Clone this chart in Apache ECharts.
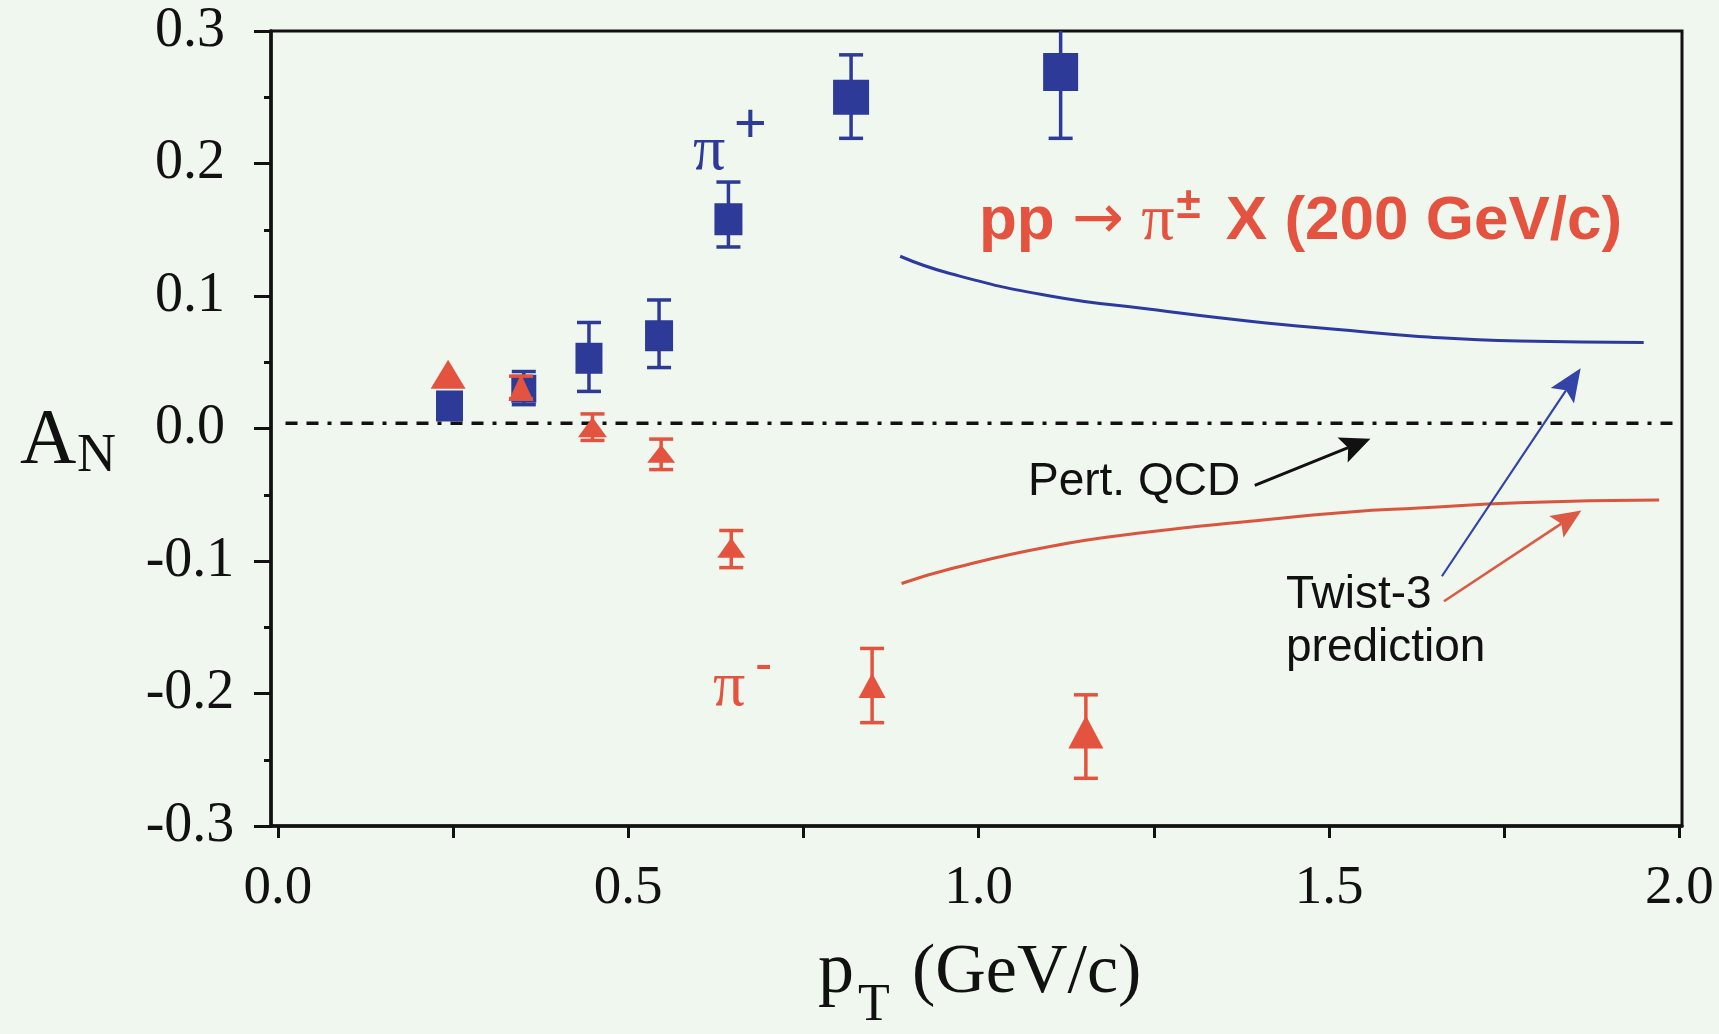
<!DOCTYPE html>
<html>
<head>
<meta charset="utf-8">
<script src="https://cdn.jsdelivr.net/npm/echarts@6/dist/echarts.min.js"></script>
<style>
html, body { margin: 0; padding: 0; background: #f0f7ee; }
#chart { width: 1719px; height: 1034px; }
</style>
</head>
<body>
<div id="chart"></div>
<script>
// ---------------- data ----------------
const piPlusX = [0.245, 0.351, 0.444, 0.544, 0.643, 0.818, 1.117];
const piPlusY = [0.017, 0.030, 0.053, 0.070, 0.158, 0.250, 0.269];
const piPlusErrUp = [0.008, 0.013, 0.027, 0.027, 0.028, 0.032, 0.050];
const piPlusErrDown = [0.008, 0.012, 0.025, 0.024, 0.021, 0.031, 0.050];

const piMinusX = [0.243, 0.347, 0.449, 0.547, 0.647, 0.848, 1.153];
const piMinusY = [0.041, 0.031, 0.001, -0.019, -0.090, -0.194, -0.229];
const piMinusErrUp = [0, 0.0085, 0.010, 0.011, 0.013, 0.028, 0.028];
const piMinusErrDown = [0, 0.0085, 0.010, 0.012, 0.015, 0.028, 0.035];

const twistPlusX = [0.888, 0.959, 1.102, 1.245, 1.387, 1.530, 1.628, 1.771, 1.949];
const twistPlusY = [0.130, 0.117, 0.100, 0.090, 0.081, 0.074, 0.0695, 0.066, 0.065];
const twistMinusX = [0.890, 0.959, 1.102, 1.245, 1.387, 1.530, 1.628, 1.771, 1.971];
const twistMinusY = [-0.117, -0.106, -0.089, -0.078, -0.070, -0.063, -0.060, -0.056, -0.054];

const pertQcdX = [0.011, 2.0036];
const pertQcdY = [0.004, 0.004];

// annotation arrows (Pert. QCD, Twist-3 pi+, Twist-3 pi-)
const arrowFromX = [1.394, 1.661, 1.664];
const arrowFromY = [-0.043, -0.1115, -0.1304];
const arrowToX = [1.559, 1.859, 1.860];
const arrowToY = [-0.0077, 0.0454, -0.0618];

const xTickValues = [0, 0.25, 0.5, 0.75, 1, 1.25, 1.5, 1.75, 2];
const xLabelValues = [0, 0.5, 1, 1.5, 2];
const xMin = -0.0097, xMax = 2.0036;
const yMin = -0.3, yMax = 0.3, yStep = 0.1;

// ---------------- styles ----------------
const BLUE = '#2d3a98';
const RED = '#e4533f';
const BLACK = '#111111';
const SERIF = '"Liberation Serif", "Times New Roman", serif';
const SANS = '"Liberation Sans", Arial, sans-serif';
const piPlusMarker = [[27,31],[25,28],[27,31],[28,31],[28,32],[36,35],[35,38]];
const piMinusMarker = [[35,29],[25,27],[29,20],[28,18],[28,20],[27,25],[35,33]];
const arrowStyles = [
  {color: BLACK, width: 3, len: 30, head: 27},
  {color: '#3343a8', width: 2.2, len: 33, head: 28},
  {color: '#dc5a44', width: 2.6, len: 30, head: 26}
];
const CAP = 24;

function errRender(color) {
  return function (params, api) {
    const x = api.value(0), lo = api.value(1), hi = api.value(2);
    if (hi === lo) return null;
    const cs = params.coordSys;
    const pHi = api.coord([x, hi]);
    const pLo = api.coord([x, lo]);
    const top = cs.y, bot = cs.y + cs.height;
    const y1 = Math.max(pHi[1], top), y2 = Math.min(pLo[1], bot);
    const st = {stroke: color, lineWidth: 3.5};
    const ch = [{type: 'line', shape: {x1: pHi[0], y1: y1, x2: pHi[0], y2: y2}, style: st}];
    if (pHi[1] >= top) ch.push({type: 'line', shape: {x1: pHi[0] - CAP/2, y1: pHi[1], x2: pHi[0] + CAP/2, y2: pHi[1]}, style: st});
    if (pLo[1] <= bot) ch.push({type: 'line', shape: {x1: pLo[0] - CAP/2, y1: pLo[1], x2: pLo[0] + CAP/2, y2: pLo[1]}, style: st});
    return {type: 'group', children: ch};
  };
}

function arrowRender(params, api) {
  const s = arrowStyles[params.dataIndex];
  const p1 = api.coord([api.value(0), api.value(1)]);
  const p2 = api.coord([api.value(2), api.value(3)]);
  const dx = p2[0] - p1[0], dy = p2[1] - p1[1];
  const d = Math.sqrt(dx*dx + dy*dy);
  const ux = dx/d, uy = dy/d, nx = -uy, ny = ux;
  const bx = p2[0] - s.len*ux, by = p2[1] - s.len*uy;
  const mx = p2[0] - 0.8*s.len*ux, my = p2[1] - 0.8*s.len*uy;
  return {
    type: 'group',
    children: [
      {type: 'line', shape: {x1: p1[0], y1: p1[1], x2: mx, y2: my}, style: {stroke: s.color, lineWidth: s.width}},
      {type: 'polygon', shape: {points: [[p2[0], p2[1]], [bx + nx*s.head/2, by + ny*s.head/2], [mx, my], [bx - nx*s.head/2, by - ny*s.head/2]]}, style: {fill: s.color}}
    ]
  };
}

function baseTop(baseline, size) { return baseline - 0.81 * size; }
function txt(x, baseline, size, family, text, color, weight) {
  return {
    type: 'text', x: x, y: baseTop(baseline, size), silent: true, z: 100,
    style: {text: text, font: (weight ? weight + ' ' : '') + size + 'px ' + family, fill: color || BLACK}
  };
}

const chart = echarts.init(document.getElementById('chart'), null, {renderer: 'canvas'});
const option = {
  backgroundColor: '#f0f7ee',
  animation: false,
  grid: {left: 271, top: 31, width: 1411, height: 795, show: true, borderColor: BLACK, borderWidth: 3,
         backgroundColor: 'transparent', containLabel: false, outerBoundsMode: 'none'},
  xAxis: {
    type: 'value', min: xMin, max: xMax,
    axisLine: {show: true, onZero: false, lineStyle: {color: BLACK, width: 3.5}},
    axisTick: {show: true, customValues: xTickValues, length: 12, lineStyle: {color: BLACK, width: 3}},
    axisLabel: {customValues: xLabelValues, formatter: v => v.toFixed(1), fontFamily: SERIF, fontSize: 55, color: BLACK, margin: 35},
    splitLine: {show: false}
  },
  yAxis: {
    type: 'value', min: yMin, max: yMax, interval: yStep,
    axisLine: {show: true, onZero: false, lineStyle: {color: BLACK, width: 3.5}},
    axisTick: {show: true, length: 17, lineStyle: {color: BLACK, width: 3}},
    minorTick: {show: true, splitNumber: 2, length: 7, lineStyle: {color: BLACK, width: 3}},
    axisLabel: {formatter: v => (Math.abs(v) < 1e-9 ? 0 : v).toFixed(1), fontFamily: SERIF, fontSize: 56, color: BLACK, align: 'center', margin: 81},
    splitLine: {show: false}, minorSplitLine: {show: false}
  },
  series: [
    {type: 'custom', name: 'pi+ err', renderItem: errRender(BLUE), encode: {x: 0, y: [1, 2]}, z: 2, silent: true,
     data: piPlusX.map((x, i) => [x, piPlusY[i] - piPlusErrDown[i], piPlusY[i] + piPlusErrUp[i]])},
    {type: 'scatter', name: 'pi+', symbol: 'rect', z: 3, silent: true,
     symbolSize: (v, p) => piPlusMarker[p.dataIndex], itemStyle: {color: BLUE, opacity: 1},
     data: piPlusX.map((x, i) => [x, piPlusY[i]])},
    {type: 'custom', name: 'pi- err', renderItem: errRender(RED), encode: {x: 0, y: [1, 2]}, z: 4, silent: true,
     data: piMinusX.map((x, i) => [x, piMinusY[i] - piMinusErrDown[i], piMinusY[i] + piMinusErrUp[i]])},
    {type: 'scatter', name: 'pi-', symbol: 'triangle', z: 5, silent: true,
     symbolSize: (v, p) => piMinusMarker[p.dataIndex], itemStyle: {color: RED, opacity: 1},
     data: piMinusX.map((x, i) => [x, piMinusY[i]])},
    {type: 'line', name: 'Twist-3 pi+', smooth: 0.5, showSymbol: false, silent: true, z: 2,
     lineStyle: {color: '#2c3aa0', width: 3},
     data: twistPlusX.map((x, i) => [x, twistPlusY[i]])},
    {type: 'line', name: 'Twist-3 pi-', smooth: 0.5, showSymbol: false, silent: true, z: 2,
     lineStyle: {color: '#d9553f', width: 3},
     data: twistMinusX.map((x, i) => [x, twistMinusY[i]])},
    {type: 'line', name: 'Pert. QCD', showSymbol: false, silent: true, z: 1,
     lineStyle: {color: BLACK, width: 3.5, type: [12, 9, 12, 9, 4, 9]},
     data: pertQcdX.map((x, i) => [x, pertQcdY[i]])},
    {type: 'custom', name: 'arrows', renderItem: arrowRender, encode: {x: [0, 2], y: [1, 3]}, z: 6, silent: true,
     data: arrowFromX.map((x, i) => [x, arrowFromY[i], arrowToX[i], arrowToY[i]])}
  ],
  graphic: [
    txt(20, 466, 78, SERIF, 'A'),
    txt(77, 474, 54, SERIF, 'N'),
    txt(818, 995, 72, SERIF, 'p'),
    txt(858, 1022, 52, SERIF, 'T'),
    txt(912, 995, 70, SERIF, '(GeV/c)'),
    txt(693, 172, 64, SERIF, 'π', BLUE),
    txt(734, 144, 56, SANS, '+', BLUE),
    txt(713, 708, 64, SERIF, 'π', RED),
    txt(755, 683, 52, SANS, '-', RED),
    txt(1028, 497, 46, SANS, 'Pert. QCD'),
    txt(1286, 610, 46, SANS, 'Twist-3'),
    txt(1286, 663, 46, SANS, 'prediction'),
    {
      type: 'text', x: 979, y: 184, silent: true, z: 100,
      style: {
        text: '{a|pp }{arr|→}{a| }{pi|π}{pm|±}{a| X (200 GeV/c)}',
        font: 'bold 62px ' + SANS, fill: RED,
        rich: {
          a: {font: 'bold 62px ' + SANS, fill: RED, color: RED, lineHeight: 76, verticalAlign: 'middle'},
          arr: {font: '62px "DejaVu Sans", sans-serif', fill: RED, color: RED, lineHeight: 76, verticalAlign: 'middle'},
          pi: {font: '66px ' + SERIF, fill: RED, color: RED, lineHeight: 76, verticalAlign: 'middle'},
          pm: {font: 'bold 44px ' + SANS, fill: RED, color: RED, lineHeight: 44, verticalAlign: 'top', padding: [0, 8, 0, 2]}
        }
      }
    }
  ]
};
chart.setOption(option);
</script>
</body>
</html>
